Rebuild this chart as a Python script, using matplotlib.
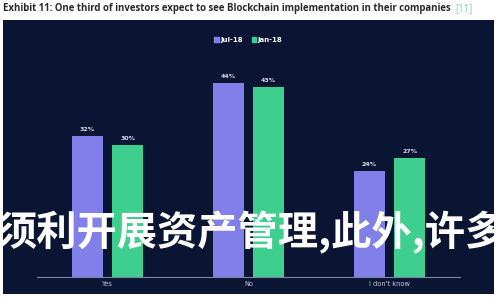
import matplotlib
matplotlib.use("Agg")
import matplotlib.pyplot as plt
from matplotlib.patches import Rectangle, Patch
import numpy as np

categories = ["Yes", "No", "I don't know"]
series_names = ["Jul-18", "Jan-18"]
jul18 = [32, 44, 24]
jan18 = [30, 43, 27]
title_text = "Exhibit 11: One third of investors expect to see Blockchain implementation in their companies"
ref_text = "[11]"
overlay_text = "须利开展资产管理,此外,许多"

W, H = 500, 300
fig = plt.figure(figsize=(W / 100, H / 100), dpi=100)
fig.patch.set_facecolor("white")

panel_color = "#0a1433"
c_jul = "#8080e8"
c_jan = "#3ecf8e"

def fx(px):
    return px / W

def fy(py):
    return 1 - py / H

# dark panel as a background axes
bg = fig.add_axes([fx(3), fy(294), fx(494) - fx(3), fy(20) - fy(294)], zorder=0)
bg.set_facecolor(panel_color)
bg.set_xticks([]); bg.set_yticks([])
for s in bg.spines.values():
    s.set_visible(False)

ax = fig.add_axes([fx(37), fy(277), fx(460) - fx(37), fy(50) - fy(277)], zorder=1)
ax.set_facecolor("none")
x = np.arange(len(categories))
w = 0.22
off = 0.143
b1 = ax.bar(x - off, jul18, w, color=c_jul, label=series_names[0], zorder=2)
b2 = ax.bar(x + off, jan18, w, color=c_jan, label=series_names[1], zorder=2)
ax.set_xlim(-0.5, 2.5)
ax.set_ylim(0, 51.5)
for bars, vals in ((b1, jul18), (b2, jan18)):
    for r, v in zip(bars, vals):
        ax.annotate(f"{v}%", (r.get_x() + r.get_width() / 2, v), xytext=(0, 3),
                    textcoords="offset points", ha="center", va="bottom",
                    fontsize=4.5, color="#d8dbe6", fontweight="bold")

for s in ("top", "right", "left"):
    ax.spines[s].set_visible(False)
ax.spines["bottom"].set_color("#7d85a3")
ax.spines["bottom"].set_linewidth(0.8)
ax.set_yticks([])
ax.set_xticks(x)
ax.set_xticklabels(categories, fontsize=4.8, color="#c8ccda")
ax.tick_params(axis="x", length=0, pad=3)

leg = ax.legend(handles=[Patch(color=c_jul, label=series_names[0]),
                         Patch(color=c_jan, label=series_names[1])],
                loc="center", bbox_to_anchor=(0.5, (fy(40) - fy(277)) / (fy(50) - fy(277))),
                ncol=2, frameon=False, fontsize=5, handlelength=0.6, handleheight=0.6,
                handletextpad=0.3, columnspacing=1.2)
for t in leg.get_texts():
    t.set_color("white")
    t.set_fontweight("bold")

t1 = fig.text(fx(3), fy(9), title_text, ha="left", va="center", fontsize=6.9,
              fontweight="bold", color="#2a2a2a", family="Open Sans")
fig.canvas.draw()
bb = t1.get_window_extent()
fig.text(bb.x1 / W + fx(4), fy(9), ref_text, ha="left", va="center", fontsize=6.9,
         color="#7fd6c2", family="Open Sans")

fig.text(fx(-3), fy(233), overlay_text, ha="left", va="center", fontsize=29,
         fontweight="bold", color="white", family=["Noto Sans CJK SC", "DejaVu Sans"],
         zorder=5)

fig.savefig("out.png", dpi=100, facecolor=fig.get_facecolor())
